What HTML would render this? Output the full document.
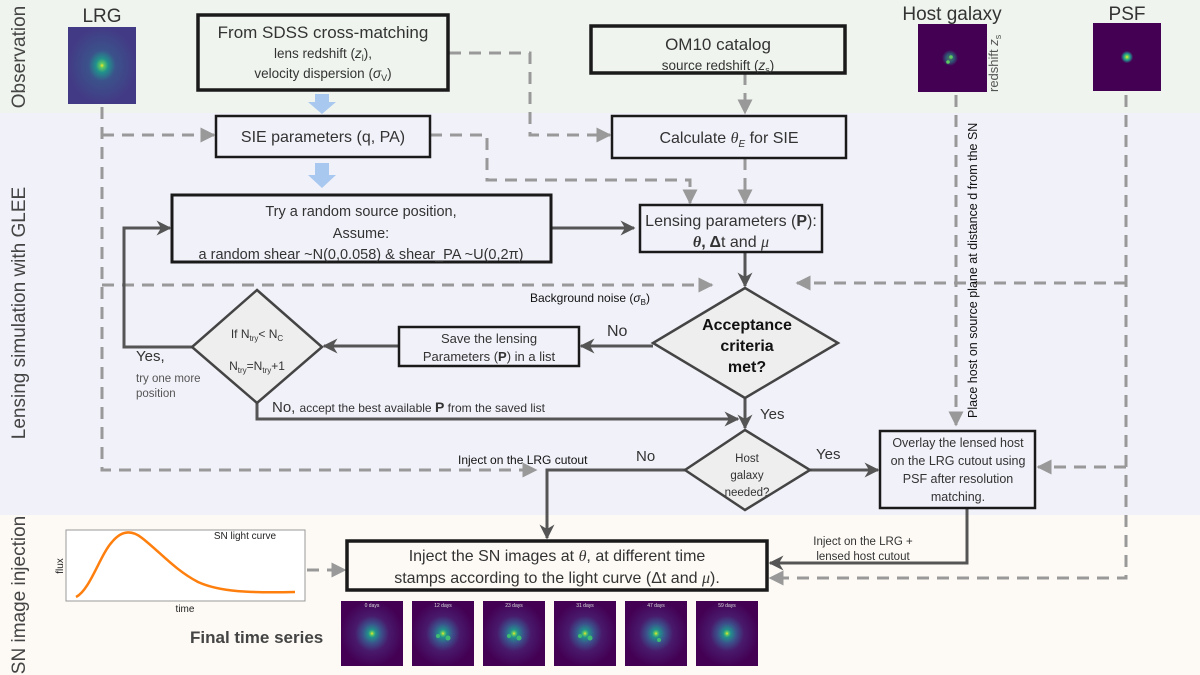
<!DOCTYPE html>
<html><head><meta charset="utf-8"><style>
html,body{margin:0;padding:0;background:#fff}
svg{display:block;font-family:"Liberation Sans",sans-serif}
</style></head><body>
<svg width="1200" height="675" viewBox="0 0 1200 675" xmlns="http://www.w3.org/2000/svg">
<defs>
<marker id="ag" viewBox="0 0 10 10" refX="9" refY="5" markerWidth="5" markerHeight="5" orient="auto"><path d="M0,0 L10,5 L0,10 z" fill="#999"/></marker>
<marker id="ad" viewBox="0 0 10 10" refX="9" refY="5" markerWidth="5" markerHeight="5" orient="auto"><path d="M0,0 L10,5 L0,10 L3,5 z" fill="#555"/></marker>
<radialGradient id="lrg"><stop offset="0" stop-color="#fde725"/><stop offset="0.06" stop-color="#5ec962"/><stop offset="0.18" stop-color="#21918c"/><stop offset="0.4" stop-color="#3b528b"/><stop offset="1" stop-color="#433a85"/></radialGradient>
<radialGradient id="psf"><stop offset="0" stop-color="#fde725"/><stop offset="0.05" stop-color="#5ec962"/><stop offset="0.1" stop-color="#21918c"/><stop offset="0.18" stop-color="#440154"/><stop offset="1" stop-color="#440154"/></radialGradient>
<radialGradient id="sn"><stop offset="0" stop-color="#fde725"/><stop offset="0.05" stop-color="#5ec962"/><stop offset="0.12" stop-color="#21918c"/><stop offset="0.3" stop-color="#3b528b"/><stop offset="0.55" stop-color="#481a6c"/><stop offset="1" stop-color="#440154"/></radialGradient>
<radialGradient id="spot"><stop offset="0" stop-color="#5ec962"/><stop offset="0.5" stop-color="#21918c"/><stop offset="1" stop-color="#21918c" stop-opacity="0"/></radialGradient>
</defs>
<rect x="0" y="0" width="1200" height="113" fill="#eff5ee"/>
<rect x="0" y="113" width="1200" height="402" fill="#f1f1f9"/>
<rect x="0" y="515" width="1200" height="160" fill="#fdfaf5"/>

<g fill="#444" font-size="19">
<text transform="translate(25,57) rotate(-90)" text-anchor="middle">Observation</text>
<text transform="translate(25,313) rotate(-90)" text-anchor="middle">Lensing simulation with GLEE</text>
<text transform="translate(25,595) rotate(-90)" text-anchor="middle">SN image injection</text>
</g>

<text x="102" y="22" font-size="19" fill="#333" text-anchor="middle">LRG</text>
<rect x="68" y="27" width="68" height="77" fill="url(#lrg)"/>
<text x="952" y="20" font-size="19" fill="#333" text-anchor="middle">Host galaxy</text>
<rect x="918" y="24" width="69" height="68" fill="#440154"/>
<circle cx="950" cy="58" r="8" fill="url(#spot)" opacity="0.6"/>
<circle cx="951" cy="57" r="1.8" fill="#5ec962"/><circle cx="948" cy="62" r="1.8" fill="#5ec962"/>
<text transform="translate(998,92) rotate(-90)" font-size="13" fill="#555">redshift <tspan font-style="italic">z</tspan><tspan font-size="9" dy="3">s</tspan></text>
<text x="1127" y="20" font-size="19" fill="#333" text-anchor="middle">PSF</text>
<rect x="1093" y="23" width="68" height="68" fill="url(#psf)"/>

<g fill="none" stroke="#999" stroke-width="3" stroke-dasharray="12,8">
<path d="M102,107 V470 H536" marker-end="url(#ag)"/>
<path d="M102,135 H214" marker-end="url(#ag)"/>
<path d="M102,285 H712" marker-end="url(#ag)"/>
<path d="M449,53 H530 V135 H610" marker-end="url(#ag)"/>
<path d="M430,135 H487 V180 H690 V203" marker-end="url(#ag)"/>
<path d="M745,73 V113" marker-end="url(#ag)"/>
<path d="M745,158 V203" marker-end="url(#ag)"/>
<path d="M956,95 V425" marker-end="url(#ag)"/>
<path d="M1126,95 V578 H770" marker-end="url(#ag)"/>
<path d="M1126,283 H797" marker-end="url(#ag)"/>
<path d="M1126,467 H1038" marker-end="url(#ag)"/>
<path d="M307,570 H345" marker-end="url(#ag)"/>
</g>

<g fill="#a9c8f0">
<path d="M315,94 h14 v8 h7 l-14,12 l-14,-12 h7 z"/>
<path d="M315,163 h14 v12 h7 l-14,13 l-14,-13 h7 z"/>
</g>

<g fill="none" stroke="#555" stroke-width="3">
<path d="M551,228 H634" marker-end="url(#ad)"/>
<path d="M745,252 V286" marker-end="url(#ad)"/>
<path d="M653,346 H581" marker-end="url(#ad)"/>
<path d="M399,346 H324" marker-end="url(#ad)"/>
<path d="M192,347 H124 V228 H170" marker-end="url(#ad)"/>
<path d="M257,403 V419 H738" marker-end="url(#ad)"/>
<path d="M745,398 V428" marker-end="url(#ad)"/>
<path d="M810,470 H878" marker-end="url(#ad)"/>
<path d="M685,470 H547 V538" marker-end="url(#ad)"/>
<path d="M967,508 V563 H770" marker-end="url(#ad)"/>
</g>

<g fill="none" stroke="#1a1a1a">
<rect x="198" y="15" width="250" height="75" stroke-width="3.5"/>
<rect x="216" y="116" width="214" height="41" stroke-width="2.5"/>
<rect x="172" y="195" width="379" height="67" stroke-width="3"/>
<rect x="591" y="26" width="254" height="47" stroke-width="3.5"/>
<rect x="612" y="116" width="234" height="42" stroke-width="2.5"/>
<rect x="640" y="205" width="182" height="47" stroke-width="2.5"/>
<rect x="399" y="327" width="180" height="39" stroke-width="2.5"/>
<rect x="880" y="431" width="155" height="77" stroke-width="2.5"/>
<rect x="347" y="541" width="420" height="49" stroke-width="3.5"/>
</g>
<g fill="#eeeeee" stroke="#444" stroke-width="2.5">
<path d="M745,288 L838,343 L745,398 L653,343 z"/>
<path d="M257,290 L322,347 L257,403 L192,347 z"/>
<path d="M745,430 L810,470 L745,510 L685,470 z"/>
</g>

<g fill="#333" text-anchor="middle">
<text x="323" y="38" font-size="17">From SDSS cross-matching</text>
<text x="323" y="58" font-size="13.5">lens redshift (<tspan font-style="italic">z</tspan><tspan font-size="9" dy="3">l</tspan><tspan dy="-3">),</tspan></text>
<text x="323" y="78" font-size="13.5">velocity dispersion (<tspan font-style="italic">σ</tspan><tspan font-size="9" dy="3">V</tspan><tspan dy="-3">)</tspan></text>
<text x="323" y="142" font-size="16">SIE parameters (q, PA)</text>
<text x="361" y="216" font-size="14.5">Try a random source position,</text>
<text x="361" y="238" font-size="14.5">Assume:</text>
<text x="361" y="259" font-size="14.5">a random shear ~N(0,0.058) &amp; shear_PA ~U(0,2π)</text>
<text x="718" y="50" font-size="17">OM10 catalog</text>
<text x="718" y="70" font-size="13.5">source redshift (<tspan font-style="italic">z</tspan><tspan font-size="9" dy="3">s</tspan><tspan dy="-3">)</tspan></text>
<text x="729" y="143" font-size="16">Calculate <tspan font-style="italic" font-family="Liberation Serif">θ</tspan><tspan font-size="10" dy="4" font-style="italic">E</tspan><tspan dy="-4"> for SIE</tspan></text>
<text x="731" y="226" font-size="16">Lensing parameters (<tspan font-weight="bold">P</tspan>):</text>
<text x="731" y="247" font-size="16"><tspan font-family="Liberation Serif" font-style="italic" font-weight="bold">θ</tspan><tspan font-weight="bold">, Δ</tspan>t and <tspan font-family="Liberation Serif" font-style="italic">μ</tspan></text>
<text x="747" y="330" font-size="16" font-weight="bold" fill="#111">Acceptance</text>
<text x="747" y="351" font-size="16" font-weight="bold" fill="#111">criteria</text>
<text x="747" y="372" font-size="16" font-weight="bold" fill="#111">met?</text>
<text x="489" y="343" font-size="13">Save the lensing</text>
<text x="489" y="361" font-size="13">Parameters (<tspan font-weight="bold">P</tspan>) in a list</text>
<text x="257" y="338" font-size="12">If N<tspan font-size="8" dy="3">try</tspan><tspan dy="-3">&lt; N</tspan><tspan font-size="8" dy="3">C</tspan></text>
<text x="257" y="370" font-size="12">N<tspan font-size="8" dy="3">try</tspan><tspan dy="-3">=N</tspan><tspan font-size="8" dy="3">try</tspan><tspan dy="-3">+1</tspan></text>
<text x="747" y="462" font-size="11.5">Host</text>
<text x="747" y="479" font-size="11.5">galaxy</text>
<text x="747" y="496" font-size="11.5">needed?</text>
<text x="958" y="447" font-size="12.5">Overlay the lensed host</text>
<text x="958" y="465" font-size="12.5">on the LRG cutout using</text>
<text x="958" y="483" font-size="12.5">PSF after resolution</text>
<text x="958" y="501" font-size="12.5">matching.</text>
<text x="557" y="561" font-size="16">Inject the SN images at <tspan font-family="Liberation Serif" font-style="italic">θ</tspan>, at different time</text>
<text x="557" y="583" font-size="16">stamps according to the light curve (Δt and <tspan font-family="Liberation Serif" font-style="italic">μ</tspan>).</text>
</g>

<g fill="#333">
<text x="607" y="336" font-size="16">No</text>
<text x="136" y="361" font-size="15">Yes,</text>
<text x="136" y="382" font-size="11.5" fill="#555">try one more</text>
<text x="136" y="397" font-size="11.5" fill="#555">position</text>
<text x="272" y="412" font-size="15">No, <tspan font-size="12">accept the best available </tspan><tspan font-size="14" font-weight="bold">P</tspan><tspan font-size="12"> from the saved list</tspan></text>
<text x="760" y="419" font-size="15">Yes</text>
<text x="636" y="461" font-size="15">No</text>
<text x="816" y="459" font-size="15">Yes</text>
<text x="458" y="464" font-size="12" fill="#111">Inject on the LRG cutout</text>
<text x="530" y="302" font-size="12" fill="#111">Background noise (<tspan font-style="italic">σ</tspan><tspan font-size="8" dy="3">B</tspan><tspan dy="-3">)</tspan></text>
<text x="863" y="545" font-size="11.5" text-anchor="middle">Inject on the LRG +</text>
<text x="863" y="560" font-size="11.5" text-anchor="middle">lensed host cutout</text>
<text transform="translate(977,418) rotate(-90)" font-size="12.5" fill="#111">Place host on source plane at distance d from the SN</text>
</g>

<rect x="66" y="530" width="239" height="71" fill="#fff" stroke="#999" stroke-width="1"/>
<path d="M76,597 C90,590 100,555 112,542 C122,530 132,530 142,538 C160,552 175,570 198,582 C220,592 250,593 295,592" fill="none" stroke="#ff7f0e" stroke-width="2.5"/>
<text x="245" y="539" font-size="10" fill="#222" text-anchor="middle">SN light curve</text>
<text x="185" y="612" font-size="10" fill="#222" text-anchor="middle">time</text>
<text transform="translate(63,566) rotate(-90)" font-size="10" fill="#222" text-anchor="middle">flux</text>

<text x="190" y="643" font-size="17" font-weight="bold" fill="#444">Final time series</text>
<g>
<rect x="341" y="601" width="62" height="65" fill="url(#sn)"/>
<rect x="412" y="601" width="62" height="65" fill="url(#sn)"/>
<rect x="483" y="601" width="62" height="65" fill="url(#sn)"/>
<rect x="554" y="601" width="62" height="65" fill="url(#sn)"/>
<rect x="625" y="601" width="62" height="65" fill="url(#sn)"/>
<rect x="696" y="601" width="62" height="65" fill="url(#sn)"/>
<circle cx="448" cy="638" r="2.5" fill="#3fbc73"/><circle cx="438" cy="636" r="2" fill="#3fbc73"/>
<circle cx="519" cy="638" r="2.5" fill="#3fbc73"/><circle cx="509" cy="636" r="2" fill="#3fbc73"/>
<circle cx="590" cy="638" r="2.5" fill="#3fbc73"/><circle cx="580" cy="636" r="2" fill="#3fbc73"/>
<circle cx="659" cy="640" r="2" fill="#3fbc73"/>
<g font-size="5" fill="#ddd" text-anchor="middle">
<text x="372" y="607">0 days</text><text x="443" y="607">12 days</text><text x="514" y="607">23 days</text><text x="585" y="607">31 days</text><text x="656" y="607">47 days</text><text x="727" y="607">59 days</text>
</g>
</g>
</svg>
</body></html>
